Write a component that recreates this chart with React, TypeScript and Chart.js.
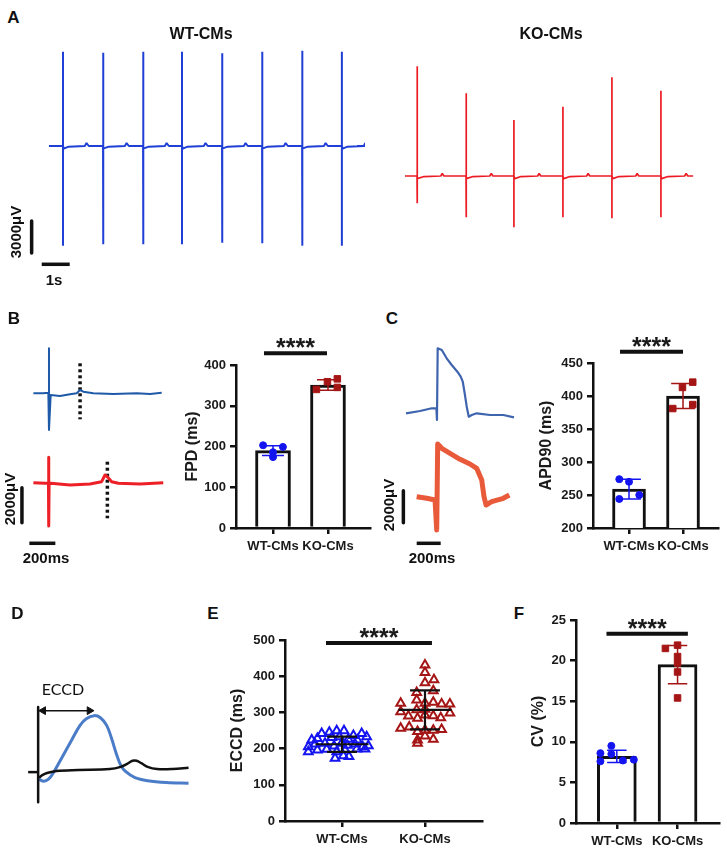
import React, { useEffect, useRef } from "react";
import { Chart, registerables } from "chart.js";

Chart.register(...registerables);

const FONT = "'Liberation Sans', Arial, Helvetica, sans-serif";
Chart.defaults.font.family = FONT;
Chart.defaults.color = "#1a1a1a";

// ================= Panel A (field potential trains; t in s, V in µV)
const wtSpikeTimes = [0.5, 1.93, 3.36, 4.75, 6.18, 7.61, 9.04, 10.46];
const wtSpikeTops = [8840, 8750, 8840, 8840, 8690, 8840, 8940, 8840];
const wtSpikeBottoms = [-9340, -9220, -9220, -9220, -9060, -9120, -9340, -9340];
const wtTraceEnd = 11.0;
const wtBeatTailT = [0.03, 0.2, 0.78, 0.84, 0.92];
const wtBeatTailV = [-250, -60, 0, 280, 0];

const koSpikeTimes = [0.43, 2.18, 3.89, 5.64, 7.39, 9.14];
const koSpikeTops = [10280, 7750, 5250, 6500, 9250, 8000];
const koSpikeBottoms = [-2560, -3870, -4810, -3870, -3970, -3870];
const koTraceEnd = 10.29;
const koBeatTailT = [0.03, 0.25, 0.85, 0.9, 0.96];
const koBeatTailV = [-250, -50, 0, 240, 0];

const aScaleBarT = [-0.62, -0.62];
const aScaleBarV = [-7031, -10031]; // 3000 µV
const aTimeBarT = [-0.26, 0.74]; // 1 s
const aTimeBarV = [-11090, -11090];

// ================= Panel B (single beats; t in ms, V in µV)
const bBlueT = [3, 79, 118, 123, 123, 136, 208, 285, 336, 362, 387, 464, 618, 797, 900, 990];
const bBlueV = [40, 40, 74, 2610, -2057, -57, -114, -17, 40, 228, 131, 40, 0, 40, 0, 74];
const bRedT = [3, 92, 119, 121, 121, 124, 136, 285, 438, 528, 554, 572, 605, 656, 823, 1002];
const bRedV = [-5068, -5103, -5090, -3617, -7543, -5110, -5103, -5200, -5143, -5011, -4628, -4726, -5011, -5103, -5143, -5068];
const bFpdMarkT = [362, 572];
const bFpdMarkTop = [1754, -3869];
const bFpdMarkBottom = [-1446, -7103];
const bScaleBarT = [-85, -85];
const bScaleBarV = [-5354, -7354]; // 2000 µV
const bTimeBarT = [-28, 172]; // 200 ms
const bTimeBarV = [-8531, -8531];

// ================= Panel C (action potentials; t in ms, V in µV)
const cBlueT = [0, 117, 214, 253, 258, 264, 298, 339, 381, 428, 456, 473, 489, 506, 523, 548, 589, 700, 811, 900];
const cBlueV = [-20, 125, 294, 294, -438, 4044, 3938, 3419, 3000, 2581, 2269, 1956, 1231, 394, -231, -125, -19, -125, -125, -269];
const cRedT = [89, 173, 242, 256, 264, 298, 367, 450, 533, 589, 631, 650, 667, 714, 811, 861];
const cRedV = [-5231, -5331, -5438, -7313, -1938, -2206, -2519, -2894, -3188, -3456, -4188, -5231, -5750, -5544, -5331, -5125];
const cScaleBarT = [-22, -22];
const cScaleBarV = [-4856, -6856]; // 2000 µV
const cTimeBarT = [89, 289]; // 200 ms
const cTimeBarV = [-8144, -8144];

// ================= Panel D (schematic)
const dBlackX = [5, 22, 47, 97, 213, 380, 438, 472, 500, 522, 547, 580, 630, 713, 797];
const dBlackY = [-60, -33, -10, 13, 23, 33, 57, 90, 123, 123, 97, 57, 33, 33, 47];
const dBlueX = [5, 30, 55, 80, 130, 180, 222, 255, 297, 330, 363, 388, 413, 438, 463, 513, 580, 680, 797];
const dBlueY = [-77, -100, -77, -10, 173, 357, 507, 580, 613, 590, 507, 373, 207, 73, 7, -60, -93, -113, -120];
const dAxisY = [707, -327];
const dTickX = [-53, 0];
const dArrowX = [27, 272];
const dArrowY = 667;

// ================= Statistics panels
const groups = ["WT-CMs", "KO-CMs"];

const fpdMean = [190, 351];
const fpdSd = [12, 13];
const fpdWtX = [-0.18, 0.18, 0.0, 0.0];
const fpdWtY = [203, 199, 186, 174];
const fpdKoX = [0.79, 0.99, 1.17, 1.17];
const fpdKoY = [340, 359, 366, 345];
const fpdSig = [-0.164, 0.982, 429];

const apdMean = [259, 400];
const apdSd = [15, 19];
const apdWtX = [-0.18, 0.0, -0.18, 0.19];
const apdWtY = [274, 270, 244, 250];
const apdKoX = [0.99, 1.18, 0.81, 1.18];
const apdKoY = [413, 421, 381, 387];
const apdSig = [-0.167, 1.0, 467];

const eccdMean = [212, 307];
const eccdSd = [21, 54];
const eccdWtX = [-0.245, -0.153, -0.064, 0.024, 0.137, 0.237, -0.365, -0.297, -0.124, -0.032, 0.076, 0.185, 0.297, -0.406, -0.325, -0.205, -0.096, -0.004, 0.064, 0.157, 0.249, 0.317, -0.406, -0.297, -0.185, -0.064, 0.036, 0.177, 0.277, -0.084, 0.016, 0.084];
const eccdWtY = [242, 245, 249, 249, 236, 242, 224, 228, 231, 233, 226, 224, 233, 205, 213, 215, 207, 215, 209, 213, 205, 208, 191, 196, 198, 191, 196, 199, 199, 173, 180, 178];
const eccdKoX = [1.0, 1.0, 1.0, 1.108, 0.9, 1.1, 0.9, 0.707, 1.0, 1.1, 1.2, 1.3, 0.707, 0.8, 0.9, 0.91, 1.0, 1.0, 1.1, 1.19, 1.3, 0.707, 0.81, 0.91, 1.0, 1.1, 1.2, 0.91, 1.0, 1.1, 0.91];
const eccdKoY = [431, 410, 382, 390, 355, 360, 334, 325, 325, 328, 323, 323, 302, 290, 307, 284, 309, 293, 291, 285, 298, 256, 260, 247, 251, 251, 253, 224, 235, 226, 215];
const eccdSig = [-0.193, 1.084, 492];

const cvMean = [8.2, 19.5];
const cvSd = [0.75, 2.35];
const cvWtX = [-0.27, -0.27, -0.09, -0.09, 0.1, 0.28];
const cvWtY = [8.6, 7.6, 9.5, 8.5, 7.7, 7.8];
const cvKoX = [0.8, 1.0, 1.0, 1.0, 1.0, 1.0];
const cvKoY = [21.5, 21.9, 20.5, 19.7, 18.6, 15.4];
const cvSig = [-0.17, 1.17, 23.3];

// ================= colours
const C_WT_A = "#1f3fd6";
const C_KO_A = "#ec1c24";
const C_WT_B = "#1f5aa8";
const C_KO_B = "#ee2027";
const C_WT_C = "#3f64ae";
const C_KO_C = "#e85a3a";
const C_D_BLUE = "#4a7cc7";
const C_PT_BLUE = "#1414f0";
const C_PT_RED = "#a51515";
const INK = "#111111";

// ================= helpers
type P = { x: number; y: number | null };
const xy = (xs: number[], ys: number[]): P[] => xs.map((x, i) => ({ x, y: ys[i] }));

function spikeTrain(times: number[], tops: number[], bottoms: number[], end: number, tailT: number[], tailV: number[]): P[] {
  const pts: P[] = [{ x: 0, y: 0 }];
  times.forEach((t, i) => {
    pts.push({ x: t, y: 0 }, { x: t, y: tops[i] }, { x: t, y: bottoms[i] }, { x: t, y: 0 });
    tailT.forEach((dt, j) => pts.push({ x: t + dt, y: tailV[j] }));
  });
  pts.push({ x: end, y: 0 });
  return pts;
}

function line(data: P[], color: string, width: number, extra: any = {}) {
  return {
    type: "line",
    data,
    borderColor: color,
    backgroundColor: color,
    borderWidth: width,
    pointRadius: 0,
    tension: 0,
    fill: false,
    clip: false,
    borderJoinStyle: "round",
    borderCapStyle: "butt",
    ...extra,
  };
}

function traceChart(xMin: number, xMax: number, yMin: number, yMax: number, datasets: any[]) {
  return {
    type: "line",
    data: { datasets },
    options: {
      responsive: false,
      animation: false,
      events: [],
      layout: { padding: 0 },
      plugins: { legend: { display: false }, tooltip: { enabled: false } },
      scales: {
        x: { type: "linear", display: false, min: xMin, max: xMax },
        y: { type: "linear", display: false, min: yMin, max: yMax },
      },
    },
  };
}

const starsPlugin = {
  id: "sigStars",
  afterDatasetsDraw(chart: any, _a: any, opts: any) {
    if (!opts || opts.x == null) return;
    const { ctx, scales } = chart;
    const px = scales.x.getPixelForValue(opts.x);
    const py = scales.y.getPixelForValue(opts.y);
    ctx.save();
    ctx.font = `bold 25px ${FONT}`;
    ctx.fillStyle = "#1a1a1a";
    ctx.textAlign = "center";
    ctx.textBaseline = "alphabetic";
    ctx.fillText("****", px, py + 3);
    ctx.restore();
  },
};

function errData(c: number, mean: number, sd: number, cap: number, meanHalf?: number): P[] {
  const hi = mean + sd;
  const lo = mean - sd;
  const d: P[] = [
    { x: c - cap, y: hi }, { x: c + cap, y: hi }, { x: c, y: null },
    { x: c, y: hi }, { x: c, y: lo }, { x: c, y: null },
    { x: c - cap, y: lo }, { x: c + cap, y: lo },
  ];
  if (meanHalf) d.push({ x: c, y: null }, { x: c - meanHalf, y: mean }, { x: c + meanHalf, y: mean });
  return d;
}

type Grp = { x: number[]; y: number[]; color: string; style: string; radius: number; hollow?: boolean };
type StatOpts = {
  yMin: number; yMax: number; yStep: number; xMin: number; xMax: number; title: string;
  yWidth: number; xHeight: number; padTop: number; padRight: number;
  bars?: { mean: number[]; thickness: number };
  err: { mean: number[]; sd: number[]; cap: number; colors: string[]; width: number; meanHalf?: number };
  groups: Grp[];
  sig: number[];
};

function statChart(o: StatOpts) {
  const datasets: any[] = [];
  if (o.bars) {
    datasets.push({
      type: "bar",
      data: xy([0, 1], o.bars.mean),
      backgroundColor: "#ffffff",
      borderColor: INK,
      borderWidth: 3,
      borderSkipped: "start",
      barThickness: o.bars.thickness,
      order: 4,
    });
  }
  o.groups.forEach((g) =>
    datasets.push({
      type: "line",
      showLine: false,
      data: xy(g.x, g.y),
      pointStyle: g.style,
      pointRadius: g.radius,
      pointBackgroundColor: g.hollow ? "rgba(255,255,255,0)" : g.color,
      pointBorderColor: g.color,
      pointBorderWidth: g.hollow ? 2 : 1,
      borderColor: g.color,
      clip: false,
      order: 3,
    })
  );
  o.err.mean.forEach((m, i) =>
    datasets.push(line(errData(i, m, o.err.sd[i], o.err.cap, o.err.meanHalf), o.err.colors[i], o.err.width, { order: 2, borderJoinStyle: "miter" }))
  );
  datasets.push(line(xy([o.sig[0], o.sig[1]], [o.sig[2], o.sig[2]]), INK, 4, { order: 1 }));

  const axisGrid = { drawOnChartArea: false, drawTicks: true, tickLength: 6, color: INK, lineWidth: 2.5, offset: false };
  const axisBorder = { display: true, color: INK, width: 2.5 };
  return {
    type: o.bars ? "bar" : "scatter",
    data: { datasets },
    plugins: [starsPlugin],
    options: {
      responsive: false,
      animation: false,
      events: [],
      layout: { padding: { top: o.padTop, right: o.padRight, left: 0, bottom: 0 } },
      plugins: {
        legend: { display: false },
        tooltip: { enabled: false },
        sigStars: { x: (o.sig[0] + o.sig[1]) / 2, y: o.sig[2] },
      },
      scales: {
        x: {
          type: "linear",
          min: o.xMin,
          max: o.xMax,
          offset: false,
          afterBuildTicks: (s: any) => {
            s.ticks = groups.map((_, i) => ({ value: i }));
          },
          afterFit: (s: any) => {
            s.height = o.xHeight;
          },
          ticks: {
            callback: (v: any) => groups[v] ?? "",
            font: { size: 13, weight: "bold" },
            color: "#1a1a1a",
            padding: 5,
            maxRotation: 0,
            minRotation: 0,
            autoSkip: false,
          },
          grid: axisGrid,
          border: axisBorder,
        },
        y: {
          type: "linear",
          min: o.yMin,
          max: o.yMax,
          afterFit: (s: any) => {
            s.width = o.yWidth;
          },
          ticks: { stepSize: o.yStep, font: { size: 13, weight: "bold" }, color: "#1a1a1a", padding: 4 },
          grid: axisGrid,
          border: axisBorder,
          title: {
            display: true,
            text: o.title,
            font: { size: 16, weight: "bold" },
            color: "#1a1a1a",
            padding: { top: 4, bottom: 4 },
          },
        },
      },
    },
  };
}

// ================= chart factories
const makeWt = () =>
  traceChart(-1.0357, 11.2857, -13500, 9937.5, [
    line(spikeTrain(wtSpikeTimes, wtSpikeTops, wtSpikeBottoms, wtTraceEnd, wtBeatTailT, wtBeatTailV), C_WT_A, 2, { borderJoinStyle: "bevel" }),
    line(xy(aScaleBarT, aScaleBarV), INK, 3.5),
    line(xy(aTimeBarT, aTimeBarV), INK, 3.5),
  ]);

const makeKo = () =>
  traceChart(-0.357, 10.714, -6937.5, 11812.5, [
    line(spikeTrain(koSpikeTimes, koSpikeTops, koSpikeBottoms, koTraceEnd, koBeatTailT, koBeatTailV), C_KO_A, 1.7, { borderJoinStyle: "bevel" }),
  ]);

const makeB = () =>
  traceChart(-253.8, 1092.3, -9200, 3371, [
    line(xy(bBlueT, bBlueV), C_WT_B, 2),
    line(xy(bRedT, bRedV), C_KO_B, 3),
    ...bFpdMarkT.map((t, i) =>
      line(xy([t, t], [bFpdMarkTop[i], bFpdMarkBottom[i]]), INK, 3.5, { borderDash: [3, 3] })
    ),
    line(xy(bScaleBarT, bScaleBarV), INK, 3.5),
    line(xy(bTimeBarT, bTimeBarV), INK, 3.5),
  ]);

const makeC = () =>
  traceChart(-216.7, 1033.3, -9187.5, 4875, [
    line(xy(cBlueT, cBlueV), C_WT_C, 2.2),
    line(xy(cRedT, cRedV), C_KO_C, 5),
    line(xy(cScaleBarT, cScaleBarV), INK, 3.5),
    line(xy(cTimeBarT, cTimeBarV), INK, 3.5),
  ]);

const makeD = () =>
  traceChart(-120, 855, -460, 940, [
    line(xy([0, 0], dAxisY), INK, 2.5),
    line(xy(dTickX, [0, 0]), INK, 2.5),
    line(xy(dBlackX, dBlackY), INK, 2.5, { tension: 0.35 }),
    line(xy(dBlueX, dBlueY), C_D_BLUE, 3, { tension: 0.35 }),
    line(xy(dArrowX, [dArrowY, dArrowY]), INK, 1.5, {
      pointRadius: 4.5,
      pointStyle: "triangle",
      pointRotation: [-90, 90],
      pointBackgroundColor: INK,
      pointBorderColor: INK,
      pointBorderWidth: 1,
    }),
  ]);

const makeFpd = () =>
  statChart({
    yMin: 0, yMax: 400, yStep: 100, xMin: -0.673, xMax: 1.764, title: "FPD (ms)",
    yWidth: 57, xHeight: 42, padTop: 35, padRight: 10,
    bars: { mean: fpdMean, thickness: 35 },
    err: { mean: fpdMean, sd: fpdSd, cap: 0.2, colors: [C_PT_BLUE, C_PT_RED], width: 1.5 },
    groups: [
      { x: fpdWtX, y: fpdWtY, color: C_PT_BLUE, style: "circle", radius: 3.5 },
      { x: fpdKoX, y: fpdKoY, color: C_PT_RED, style: "rect", radius: 4.6 },
    ],
    sig: fpdSig,
  });

const makeApd = () =>
  statChart({
    yMin: 200, yMax: 450, yStep: 50, xMin: -0.667, xMax: 1.648, title: "APD90 (ms)",
    yWidth: 60, xHeight: 42, padTop: 33, padRight: 6,
    bars: { mean: apdMean, thickness: 33 },
    err: { mean: apdMean, sd: apdSd, cap: 0.22, colors: [C_PT_BLUE, C_PT_RED], width: 1.5 },
    groups: [
      { x: apdWtX, y: apdWtY, color: C_PT_BLUE, style: "circle", radius: 3.5 },
      { x: apdKoX, y: apdKoY, color: C_PT_RED, style: "rect", radius: 4.6 },
    ],
    sig: apdSig,
  });

const makeEccd = () =>
  statChart({
    yMin: 0, yMax: 500, yStep: 100, xMin: -0.687, xMax: 1.687, title: "ECCD (ms)",
    yWidth: 61, xHeight: 34, padTop: 25, padRight: 8,
    err: { mean: eccdMean, sd: eccdSd, cap: 0.18, colors: [INK, INK], width: 2.2, meanHalf: 0.32 },
    groups: [
      { x: eccdWtX, y: eccdWtY, color: C_PT_BLUE, style: "triangle", radius: 5, hollow: true },
      { x: eccdKoX, y: eccdKoY, color: C_PT_RED, style: "triangle", radius: 5, hollow: true },
    ],
    sig: eccdSig,
  });

const makeCv = () =>
  statChart({
    yMin: 0, yMax: 25, yStep: 5, xMin: -0.672, xMax: 1.689, title: "CV (%)",
    yWidth: 51, xHeight: 27, padTop: 20, padRight: 5,
    bars: { mean: cvMean, thickness: 39 },
    err: { mean: cvMean, sd: cvSd, cap: 0.16, colors: [C_PT_BLUE, C_PT_RED], width: 1.5 },
    groups: [
      { x: cvWtX, y: cvWtY, color: C_PT_BLUE, style: "circle", radius: 3.5 },
      { x: cvKoX, y: cvKoY, color: C_PT_RED, style: "rect", radius: 4.6 },
    ],
    sig: cvSig,
  });

// ================= components
function ChartCanvas(props: { left: number; top: number; width: number; height: number; make: () => any }) {
  const ref = useRef<HTMLCanvasElement | null>(null);
  useEffect(() => {
    if (!ref.current) return;
    const chart = new Chart(ref.current, props.make() as any);
    return () => chart.destroy();
  }, []);
  return (
    <canvas
      ref={ref}
      width={props.width}
      height={props.height}
      style={{ position: "absolute", left: props.left, top: props.top, width: props.width, height: props.height }}
    />
  );
}

function Label(props: { x: number; y: number; text: string; size: number; rotate?: boolean; bold?: boolean; family?: string }) {
  return (
    <div
      style={{
        position: "absolute",
        left: props.x,
        top: props.y,
        transform: `translate(-50%, -50%)${props.rotate ? " rotate(-90deg)" : ""}`,
        fontFamily: props.family ?? FONT,
        fontWeight: props.bold === false ? "normal" : "bold",
        fontSize: props.size,
        lineHeight: 1,
        whiteSpace: "nowrap",
        color: "#111",
      }}
    >
      {props.text}
    </div>
  );
}

export default function App() {
  return (
    <div
      style={{
        position: "absolute",
        left: 0,
        top: 0,
        width: 727,
        height: 857,
        background: "#ffffff",
        overflow: "hidden",
        fontFamily: FONT,
      }}
    >
      <ChartCanvas left={20} top={40} width={345} height={250} make={makeWt} />
      <ChartCanvas left={395} top={50} width={310} height={200} make={makeKo} />
      <ChartCanvas left={0} top={335} width={175} height={220} make={makeB} />
      <ChartCanvas left={380} top={335} width={150} height={225} make={makeC} />
      <ChartCanvas left={10} top={680} width={195} height={140} make={makeD} />
      <ChartCanvas left={179} top={330} width={201} height={240} make={makeFpd} />
      <ChartCanvas left={533} top={330} width={191} height={240} make={makeApd} />
      <ChartCanvas left={224} top={615} width={266} height={240} make={makeEccd} />
      <ChartCanvas left={525} top={600} width={200} height={250} make={makeCv} />

      <Label x={13.5} y={16.5} text="A" size={17} />
      <Label x={201} y={33.5} text="WT-CMs" size={16} />
      <Label x={551} y={33.5} text="KO-CMs" size={16} />
      <Label x={15} y={232} text="3000μV" size={15} rotate />
      <Label x={54} y={279} text="1s" size={15} />

      <Label x={14} y={317.5} text="B" size={17} />
      <Label x={9} y={499} text="2000μV" size={15} rotate />
      <Label x={46} y={557} text="200ms" size={15} />

      <Label x={392} y={318} text="C" size={17} />
      <Label x={388} y={505} text="2000μV" size={15} rotate />
      <Label x={432} y={557} text="200ms" size={15} />

      <Label x={17.5} y={612.5} text="D" size={17} />
      <Label x={63} y={689} text="ECCD" size={16} bold={false} family="Lato, 'Open Sans', sans-serif" />
      <Label x={213} y={612.5} text="E" size={17} />
      <Label x={519} y={613} text="F" size={17} />
    </div>
  );
}
